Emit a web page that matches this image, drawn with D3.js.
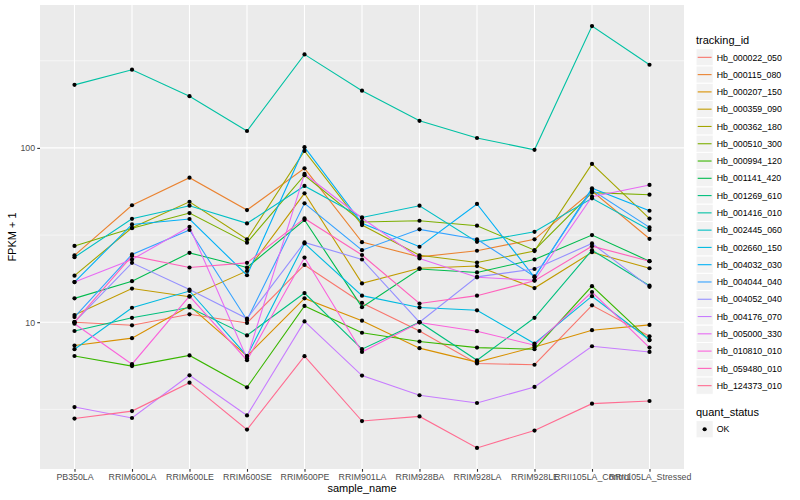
<!DOCTYPE html>
<html><head><meta charset="utf-8">
<script src="https://cdn.jsdelivr.net/npm/d3@7"></script>
<style>
body{margin:0;background:#fff}
text{font-family:"Liberation Sans",Arial,Helvetica,sans-serif}
</style>
</head><body>
<svg id="chart" width="800" height="500"></svg>
<script>
// ---------- data ----------
const samples = ["PB350LA","RRIM600LA","RRIM600LE","RRIM600SE","RRIM600PE","RRIM901LA","RRIM928BA","RRIM928LA","RRIM928LE","RRII105LA_Control","RRII105LA_Stressed"];
const trackingIds = ["Hb_000022_050","Hb_000115_080","Hb_000207_150","Hb_000359_090","Hb_000362_180","Hb_000510_300","Hb_000994_120","Hb_001141_420","Hb_001269_610","Hb_001416_010","Hb_002445_060","Hb_002660_150","Hb_004032_030","Hb_004044_040","Hb_004052_040","Hb_004176_070","Hb_005000_330","Hb_010810_010","Hb_059480_010","Hb_124373_010"];
const palette = ["#F8766D","#EA8331","#D89000","#C09B00","#A3A500","#7CAE00","#39B600","#00BB4E","#00BF7D","#00C1A3","#00BFC4","#00BAE0","#00B0F6","#35A2FF","#9590FF","#C77CFF","#E76BF3","#FA62DB","#FF62BC","#FF6C91"];

// FPKM + 1 per sample, one array per tracking_id
const Hb_000022_050 = [10.0, 9.6, 11.1, 9.9, 21.3, 12.9, 8.9, 5.8, 5.7, 12.5, 8.3];
const Hb_000115_080 = [24.2, 46.9, 67.5, 44.0, 76.4, 28.8, 23.7, 25.7, 29.9, 56.6, 30.1];
const Hb_000207_150 = [7.35, 8.1, 12.4, 6.4, 13.7, 10.2, 7.1, 5.9, 7.2, 9.0, 9.65];
const Hb_000359_090 = [11.0, 15.6, 14.0, 19.7, 54.9, 16.7, 20.4, 21.0, 15.7, 25.2, 20.4];
const Hb_000362_180 = [18.5, 34.8, 49.1, 29.9, 96.1, 36.1, 24.2, 22.0, 25.6, 80.9, 39.3];
const Hb_000510_300 = [27.4, 34.6, 42.3, 28.6, 69.7, 37.6, 38.2, 35.8, 25.9, 55.4, 53.9];
const Hb_000994_120 = [6.4, 5.6, 6.45, 4.23, 12.4, 8.7, 7.75, 7.15, 7.0, 16.1, 7.9];
const Hb_001141_420 = [13.7, 17.2, 25.0, 20.6, 38.6, 12.2, 20.2, 19.3, 22.9, 31.6, 22.4];
const Hb_001269_610 = [8.9, 10.6, 12.15, 8.4, 14.7, 7.0, 10.0, 6.05, 10.6, 25.9, 16.2];
const Hb_001416_010 = [230, 281, 198, 125, 344, 213, 143, 114, 97.5, 500, 300];
const Hb_002445_060 = [23.6, 39.2, 46.6, 36.9, 60.5, 39.9, 46.6, 28.9, 33.0, 51.4, 33.8];
const Hb_002660_150 = [7.0, 12.1, 15.1, 6.4, 28.3, 14.2, 12.15, 11.7, 7.55, 14.1, 7.9];
const Hb_004032_030 = [17.0, 36.4, 39.1, 18.6, 101, 36.9, 27.1, 47.7, 18.1, 58.7, 43.6];
const Hb_004044_040 = [10.7, 24.5, 33.8, 10.3, 48.1, 25.9, 34.1, 29.9, 18.3, 57.3, 35.0];
const Hb_004052_040 = [10.0, 21.9, 15.4, 10.5, 28.7, 22.9, 10.0, 18.2, 20.2, 28.3, 15.95];
const Hb_004176_070 = [3.26, 2.82, 4.96, 2.92, 10.1, 4.94, 3.81, 3.44, 4.25, 7.28, 6.75];
const Hb_005000_330 = [17.0, 22.9, 35.3, 6.2, 70.9, 39.6, 23.2, 18.1, 17.4, 52.5, 61.3];
const Hb_010810_010 = [9.8, 5.74, 14.1, 6.05, 23.5, 6.75, 9.96, 8.88, 7.38, 14.9, 7.15];
const Hb_059480_010 = [10.0, 24.0, 20.6, 21.9, 39.4, 24.3, 12.8, 14.2, 17.3, 27.3, 22.4];
const Hb_124373_010 = [2.80, 3.09, 4.50, 2.42, 6.38, 2.71, 2.88, 1.9, 2.39, 3.41, 3.53];

const yMajorTicks = [10, 100];
const yMinorTicks = [3.162, 31.62, 316.2];
const quantStatus = ["OK"];

const seriesValues = [Hb_000022_050,Hb_000115_080,Hb_000207_150,Hb_000359_090,Hb_000362_180,Hb_000510_300,Hb_000994_120,Hb_001141_420,Hb_001269_610,Hb_001416_010,Hb_002445_060,Hb_002660_150,Hb_004032_030,Hb_004044_040,Hb_004052_040,Hb_004176_070,Hb_005000_330,Hb_010810_010,Hb_059480_010,Hb_124373_010];
const series = trackingIds.map((id,i)=>({id, color: palette[i], values: seriesValues[i].map((v,j)=>({sample: samples[j], v}))}));

// ---------- layout ----------
const svg = d3.select("#chart");
const P = {left:40, right:684, top:5, bottom:469};

const x = d3.scalePoint().domain(samples).range([P.left, P.right]).padding(0.6);
const all = seriesValues.flat();
const lmin = Math.log10(d3.min(all)), lmax = Math.log10(d3.max(all));
const ex = (lmax - lmin) * 0.05;
const y = d3.scaleLog().domain([Math.pow(10, lmin - ex), Math.pow(10, lmax + ex)]).range([P.bottom, P.top]);

// panel background
svg.append("rect").attr("x",P.left).attr("y",P.top).attr("width",P.right-P.left).attr("height",P.bottom-P.top).attr("fill","#EBEBEB");

const grid = svg.append("g");
grid.selectAll(".ymin").data(yMinorTicks).join("line")
  .attr("x1",P.left).attr("x2",P.right).attr("y1",d=>y(d)).attr("y2",d=>y(d))
  .attr("stroke","#fff").attr("stroke-width",0.55);
grid.selectAll(".ymaj").data(yMajorTicks).join("line")
  .attr("x1",P.left).attr("x2",P.right).attr("y1",d=>y(d)).attr("y2",d=>y(d))
  .attr("stroke","#fff").attr("stroke-width",1.1);
grid.selectAll(".xmaj").data(samples).join("line")
  .attr("x1",d=>x(d)).attr("x2",d=>x(d)).attr("y1",P.top).attr("y2",P.bottom)
  .attr("stroke","#fff").attr("stroke-width",1.1);

// lines
const line = d3.line().x(d=>x(d.sample)).y(d=>y(d.v));
svg.append("g").selectAll("path").data(series).join("path")
  .attr("d", d=>line(d.values)).attr("fill","none").attr("stroke",d=>d.color).attr("stroke-width",1.1);

// points
svg.append("g").selectAll("g").data(series).join("g")
  .selectAll("circle").data(d=>d.values).join("circle")
  .attr("cx",d=>x(d.sample)).attr("cy",d=>y(d.v)).attr("r",2.1).attr("fill","#000");

// axes
const yAxis = svg.append("g").attr("transform",`translate(${P.left},0)`)
  .call(d3.axisLeft(y).tickValues(yMajorTicks).tickFormat(d3.format("d")).tickSize(2.75).tickPadding(2.2));
const xAxis = svg.append("g").attr("transform",`translate(0,${P.bottom})`)
  .call(d3.axisBottom(x).tickSize(2.75).tickPadding(2.2));
[yAxis,xAxis].forEach(a=>{
  a.select(".domain").remove();
  a.selectAll(".tick line").attr("stroke","#333").attr("stroke-width",1.1);
  a.selectAll(".tick text").attr("fill","#4D4D4D").style("font-size","8.8px").style("font-family",'"Liberation Sans",Arial,sans-serif');
});

// axis titles
svg.append("text").attr("x",(P.left+P.right)/2).attr("y",492).attr("text-anchor","middle")
  .style("font-size","11px").attr("fill","#000").text("sample_name");
svg.append("text").attr("transform",`translate(16,${(P.top+P.bottom)/2}) rotate(-90)`).attr("text-anchor","middle")
  .style("font-size","11px").attr("fill","#000").text("FPKM + 1");

// legend: tracking_id
const L = {x:696, keyTop:48.7, key:17.28};
const lg = svg.append("g");
lg.append("text").attr("x",L.x).attr("y",44).style("font-size","11px").text("tracking_id");
const items = lg.selectAll(".item").data(series).join("g").attr("transform",(d,i)=>`translate(${L.x},${L.keyTop + i*L.key})`);
items.append("rect").attr("width",L.key).attr("height",L.key).attr("fill","#F2F2F2").attr("stroke","#fff").attr("stroke-width",1);
items.append("line").attr("x1",1.7).attr("x2",L.key-1.7).attr("y1",L.key/2).attr("y2",L.key/2).attr("stroke",d=>d.color).attr("stroke-width",1.1);
items.append("text").attr("x",L.key+3.5).attr("y",L.key/2+3.2).style("font-size","8.8px").text(d=>d.id);

// legend: quant_status
const qTop = 420.6;
lg.append("text").attr("x",L.x).attr("y",415.5).style("font-size","11px").text("quant_status");
const q = lg.selectAll(".q").data(quantStatus).join("g").attr("transform",(d,i)=>`translate(${L.x},${qTop + i*L.key})`);
q.append("rect").attr("width",L.key).attr("height",L.key).attr("fill","#F2F2F2").attr("stroke","#fff");
q.append("circle").attr("cx",L.key/2).attr("cy",L.key/2).attr("r",2.1).attr("fill","#000");
q.append("text").attr("x",L.key+3.5).attr("y",L.key/2+3.2).style("font-size","8.8px").text(d=>d);
</script>
</body></html>
